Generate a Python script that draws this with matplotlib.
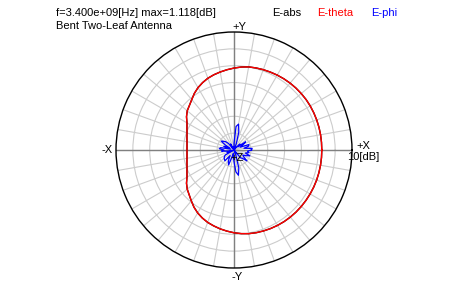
import numpy as np
import matplotlib.pyplot as plt

# far-field cut, dB, every 5 degrees starting at +X going counter-clockwise
angle_deg = np.arange(0, 360, 5)

e_theta = [1.04, 1.05, 1.07, 1.09, 1.10, 1.11, 1.118, 1.10, 1.04, 0.98,
           0.89, 0.78, 0.65, 0.50, 0.36, 0.20, 0.03, -0.30, -0.70, -1.10,
           -1.50, -1.90, -2.35, -2.95, -3.65, -4.50, -5.50, -6.30, -6.90, -7.80,
           -8.90, -9.60, -10.17, -10.55, -10.85, -11.01, -11.06, -11.01, -10.85, -10.55,
           -10.17, -9.60, -8.90, -7.80, -6.90, -6.20, -5.30, -4.30, -3.45, -2.75,
           -2.15, -1.70, -1.25, -0.85, -0.45, -0.10, 0.20, 0.40, 0.55, 0.70,
           0.82, 0.92, 0.98, 1.03, 1.05, 1.06, 1.07, 1.08, 1.08, 1.07,
           1.06, 1.05]
e_abs = list(e_theta)

e_phi = [-19.8, -19.6, -22.0, -20.5, -20.3, -23.0, -22.0, -20.8, -23.5, -22.5,
         -24.0, -26.0, -24.0, -26.0, -23.0, -19.5, -17.2, -18.0, -23.0, -26.0,
         -24.5, -26.0, -24.0, -26.0, -23.0, -25.5, -22.5, -21.5, -21.0, -20.4,
         -22.0, -23.5, -21.8, -24.0, -21.0, -20.6, -22.0, -21.3, -23.0, -24.0,
         -22.8, -24.5, -22.0, -21.5, -21.2, -21.0, -20.8, -23.0, -22.0, -21.0,
         -20.3, -23.0, -24.0, -23.0, -21.5, -18.5, -17.4, -19.5, -23.5, -26.0,
         -24.0, -25.0, -22.0, -21.5, -20.0, -21.5, -22.0, -21.0, -20.0, -21.5,
         -20.5, -21.0]

r_min, r_max = -25, 10
ring_ticks = [-20, -15, -10, -5, 0, 5]

title_1 = "f=3.400e+09[Hz] max=1.118[dB]"
title_2 = "Bent Two-Leaf Antenna"

plt.rcParams['font.family'] = ['Liberation Sans', 'DejaVu Sans']
plt.rcParams['font.size'] = 8

fig = plt.figure(figsize=(4.5, 3), dpi=100)
ax = fig.add_axes([116 / 450, 32 / 300, 236 / 450, 236 / 300], projection='polar')

th = np.deg2rad(np.append(angle_deg, 360))
def closed(v):
    v = np.asarray(v, dtype=float)
    return np.clip(np.append(v, v[0]), r_min, r_max)

ax.set_rlim(r_min, r_max)
ax.set_rticks(ring_ticks)
ax.set_thetagrids(np.arange(0, 360, 10), labels=[])
ax.set_yticklabels([])
ax.grid(True, color='#cccccc', linewidth=0.8)
ax.spines['polar'].set_color('black')
ax.spines['polar'].set_linewidth(1.0)

# main axes through the centre
for a in (0, 90, 180, 270):
    t = np.deg2rad(a)
    ax.plot([t, t], [r_min, r_max], color='#808080', lw=1.0, zorder=2)

ax.plot(th, closed(e_abs), color='black', lw=1.0, zorder=3)
ax.plot(th, closed(e_theta), color='red', lw=1.0, zorder=4)
ax.plot(th, closed(e_phi), color='blue', lw=0.9, zorder=5)

# texts
fig.text(56 / 450, 1 - 12.5 / 300, title_1, va='center', ha='left')
fig.text(56 / 450, 1 - 26 / 300, title_2, va='center', ha='left')
fig.text(272 / 450, 1 - 12.5 / 300, "E-abs", color='black', va='center')
fig.text(317 / 450, 1 - 12.5 / 300, "E-theta", color='red', va='center')
fig.text(371 / 450, 1 - 12.5 / 300, "E-phi", color='blue', va='center')

fig.text(232 / 450, 1 - 27 / 300, "+Y", va='center')
fig.text(231 / 450, 1 - 277.5 / 300, "-Y", va='center')
fig.text(102 / 450, 1 - 150 / 300, "-X", va='center')
fig.text(356 / 450, 1 - 146 / 300, "+X", va='center')
fig.text(347 / 450, 1 - 157 / 300, "10[dB]", va='center')
fig.text(230 / 450, 1 - 158 / 300, "+Z", va='center')

fig.savefig("out.png", dpi=100)
